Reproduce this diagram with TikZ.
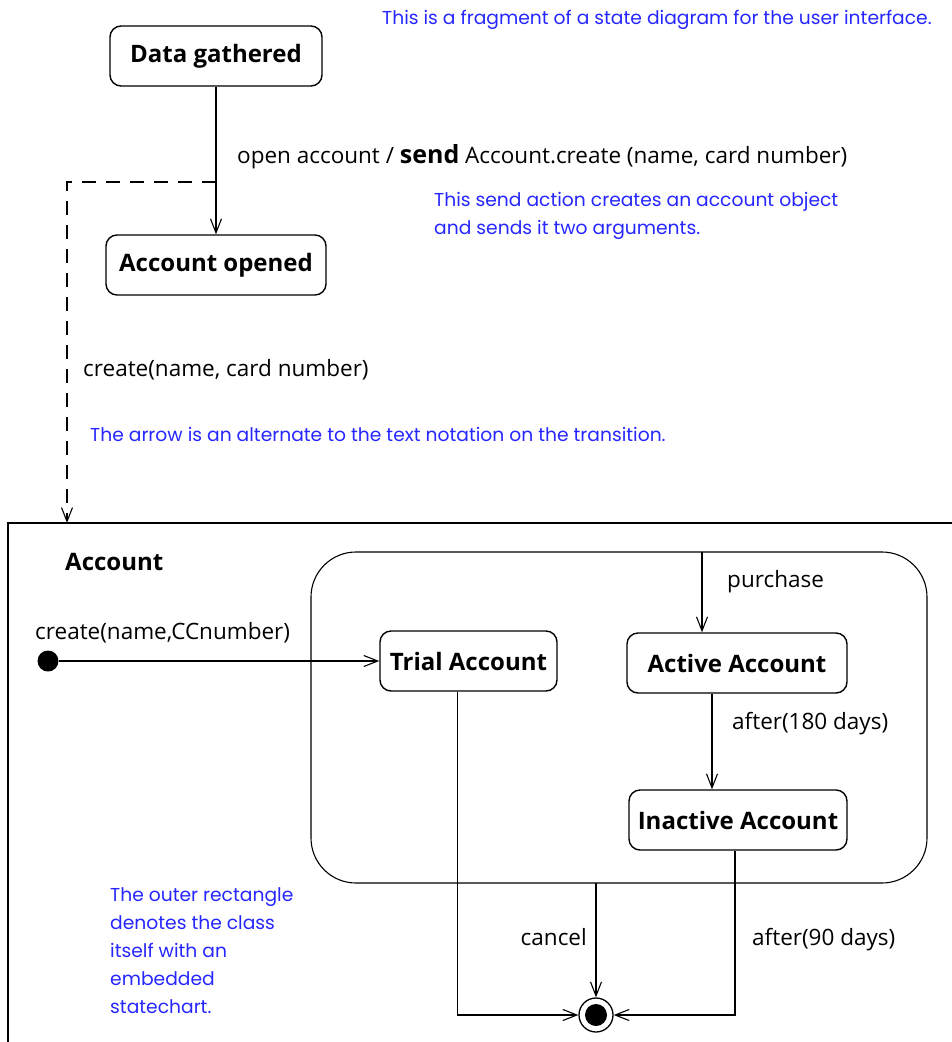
\documentclass[tikz,border=0pt]{standalone}
\usepackage{fontspec}
\setmainfont{Open Sans}
\newfontfamily\notefont{Poppins}
\usetikzlibrary{arrows.meta}

\begin{document}
\begin{tikzpicture}[x=1pt,y=-1pt,
  line/.style={draw=black,line width=1.1pt},
  flow/.style={line,-{Straight Barb[length=14pt,width=11pt,line width=1.1pt]}},
  dashflow/.style={flow,dash pattern=on 14pt off 10pt},
  state/.style={line,line width=1.4pt,rounded corners=11pt,minimum height=60pt,font=\fontsize{24}{26}\selectfont\bfseries},
  label/.style={font=\fontsize{22.5}{26}\selectfont,text=black,inner sep=0pt},
  note/.style={font=\notefont\fontsize{18.7}{28}\selectfont,text=blue!85!white,inner sep=0pt,align=left},
]
\useasboundingbox (0,0) rectangle (952,1042);

% upper fragment
\node[state,minimum width=212pt] (gath) at (216,56) {Data gathered};
\node[state,minimum width=220pt] (opened) at (216,265) {Account opened};
\draw[flow] (gath) -- (opened);
\node[label,anchor=west] (openlbl) at (237,157) {open account / \textbf{\fontsize{25}{26}\selectfont send} Account.create (name, card number)};

\coordinate (split) at (216,182);
\coordinate (acctop) at (67,523);
\draw[dashflow] (split) -| (acctop);
\node[label,anchor=west] (createlbl) at (83,370) {create(name, card number)};

% notes
\node[note,anchor=west] (n1) at (382,20) {This is a fragment of a state diagram for the user interface.};
\node[note,anchor=north west] (n2) at (434,192) {This send action creates an account object\\and sends it two arguments.};
\node[note,anchor=west] (n3) at (90,434) {The arrow is an alternate to the text notation on the transition.};
\node[note,anchor=north west] (n4) at (110,887) {The outer rectangle\\denotes the class\\itself with an\\embedded\\statechart.};

% class frame
\draw[line] (8,1042) |- (952,523);
\node[label,font=\fontsize{24}{26}\selectfont\bfseries,anchor=west] (acclbl) at (65,562) {Account};

% superstate
\node[line,rounded corners=45pt,minimum width=616pt,minimum height=331pt] (super) at (619,717.5) {};
\node[state,minimum width=177pt] (trial) at (468.5,661) {Trial Account};
\node[state,minimum width=220pt] (active) at (737,663) {Active Account};
\node[state,minimum width=218pt] (inactive) at (738,820) {Inactive Account};

\node[circle,fill=black,minimum size=21pt,inner sep=0pt] (init) at (48,661) {};
\draw[flow] (init) -- (trial);
\node[label,anchor=west] (initlbl) at (35,633) {create(name,CCnumber)};

\coordinate (suptop) at (702,552);
\draw[flow] (suptop) -- (suptop |- active.north);
\node[label,anchor=west] (purchlbl) at (727,582) {purchase};

\draw[flow] ([xshift=-25pt]active.south) -- ([xshift=-26pt]inactive.north);
\node[label,anchor=west] (a180lbl) at (732,724) {after(180 days)};

% final state
\node[circle,draw,line width=1.3pt,minimum size=34pt,inner sep=0pt] (final) at (596,1015) {};
\fill (final) circle (11pt);
\coordinate (supbot) at (596,883);
\draw[flow] (supbot) -- (final.north);
\node[label,anchor=east] (cancellbl) at (587,937) {cancel};
\draw[flow] ([xshift=-11pt]trial.south) |- (final.west);
\draw[flow] ([xshift=-3pt]inactive.south) |- (final.east);
\node[label,anchor=west] (a90lbl) at (752,940) {after(90 days)};

\end{tikzpicture}
\end{document}
